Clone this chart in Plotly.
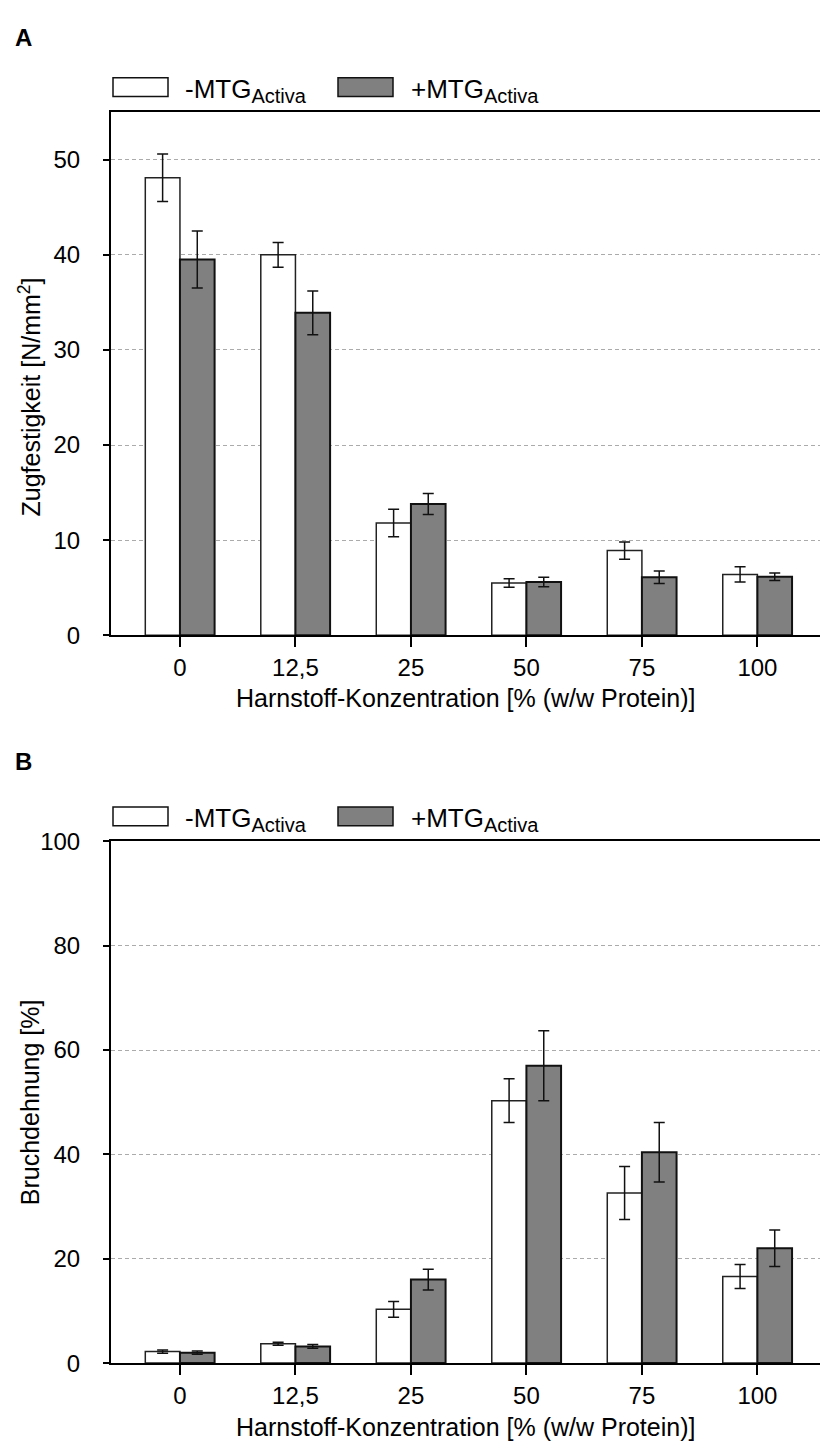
import plotly.graph_objects as go

# Harnstoff-Konzentration [% (w/w Protein)]
categories = ["0", "12,5", "25", "50", "75", "100"]

# Zugfestigkeit [N/mm²]
zug_minus = [48.1, 40.0, 11.8, 5.5, 8.9, 6.4]
zug_minus_err = [2.5, 1.3, 1.45, 0.45, 0.9, 0.8]
zug_plus = [39.5, 33.9, 13.8, 5.6, 6.1, 6.15]
zug_plus_err = [3.0, 2.3, 1.1, 0.5, 0.65, 0.4]

# Bruchdehnung [%]
bruch_minus = [2.2, 3.7, 10.3, 50.3, 32.6, 16.6]
bruch_minus_err = [0.3, 0.3, 1.5, 4.2, 5.1, 2.3]
bruch_plus = [2.0, 3.2, 16.0, 57.0, 40.4, 22.0]
bruch_plus_err = [0.3, 0.35, 2.0, 6.7, 5.7, 3.5]

W, H = 820, 1455
FONT = "Liberation Sans, Arial, sans-serif"
WHITE = "#ffffff"
GREY = "#808080"


def fx(px):
    return px / W


def fy(px):
    return 1 - px / H


fig = go.Figure()

panels = [
    ("x", "y", zug_minus, zug_minus_err, zug_plus, zug_plus_err),
    ("x2", "y2", bruch_minus, bruch_minus_err, bruch_plus, bruch_plus_err),
]
for xa, ya, vm, em, vp, ep in panels:
    for vals, errs, fill, lw, lc in ((vm, em, WHITE, 1.5, "#222222"),
                                     (vp, ep, GREY, 2, "#111111")):
        fig.add_trace(go.Bar(
            x=categories, y=vals, xaxis=xa, yaxis=ya,
            marker=dict(color=fill, line=dict(color=lc, width=lw)),
            error_y=dict(type="data", array=errs, color="#111111",
                         thickness=1.5, width=5.5),
            showlegend=False,
        ))

x_dom = [fx(111), 1]
x_rng = [-0.597, 5.542]
common_x = dict(
    domain=x_dom, range=x_rng, type="category",
    categoryorder="array", categoryarray=categories,
    showline=True, linecolor="black", linewidth=2, mirror=True,
    ticks="outside", ticklen=10, tickwidth=2, tickcolor="black",
    showgrid=False, zeroline=False,
    tickfont=dict(family=FONT, size=24, color="black"),
)
common_y = dict(
    showline=True, linecolor="black", linewidth=2,
    ticks="outside", ticklen=6, tickwidth=2, tickcolor="black",
    ticklabelstandoff=18,
    showgrid=True, gridcolor="#ababab", griddash="4px,3px", gridwidth=1,
    zeroline=False,
    tickfont=dict(family=FONT, size=24, color="black"),
)

fig.update_layout(
    width=W, height=H,
    margin=dict(l=0, r=0, t=0, b=0),
    paper_bgcolor="white", plot_bgcolor="white",
    barmode="group", bargap=0.4, bargroupgap=0,
    showlegend=False,
    xaxis=dict(anchor="y", **common_x),
    yaxis=dict(anchor="x", domain=[fy(633), fy(100)], range=[0, 55],
               tickvals=[0, 10, 20, 30, 40, 50], **common_y),
    xaxis2=dict(anchor="y2", **common_x),
    yaxis2=dict(anchor="x2", domain=[fy(1374.6), fy(843)], range=[0, 100],
                tickvals=[0, 20, 40, 60, 80, 100], **common_y),
)

ann = []
shapes = []
txt = dict(family=FONT, size=25, color="black")

# Panel letters
for label, yc in (("A", 24), ("B", 762)):
    ann.append(dict(text="<b>" + label + "</b>", x=fx(13), y=fy(yc),
                    xref="paper", yref="paper", xanchor="left",
                    yanchor="middle", showarrow=False,
                    font=dict(family=FONT, size=24, color="black")))

# Axis titles
for yref, ymid, title in (("y", 25, "Zugfestigkeit [N/mm<sup>2</sup>]"),
                          ("y2", 50, "Bruchdehnung [%]")):
    ann.append(dict(text=title, x=fx(30), y=ymid, xref="paper", yref=yref,
                    xanchor="center", yanchor="middle", textangle=-90,
                    showarrow=False, font=txt))
for xref, yc in (("x domain", 697), ("x2 domain", 1440)):
    ann.append(dict(text="Harnstoff-Konzentration [% (w/w Protein)]",
                    x=0.5, y=fy(yc), xref=xref, yref="paper",
                    xanchor="center", yanchor="middle", showarrow=False,
                    font=txt))

# Legend keys above each panel
for top in (100, 843):
    y0, y1 = top - 35, top - 16
    for (bx0, bx1, fill, tx, sign) in ((113, 168, WHITE, 183, "-"),
                                        (338, 393, GREY, 409, "+")):
        shapes.append(dict(type="rect", xref="paper", yref="paper",
                           x0=fx(bx0), x1=fx(bx1), y0=fy(y1), y1=fy(y0),
                           fillcolor=fill,
                           line=dict(color="#111111", width=1.5)))
        ann.append(dict(
            text=sign + "MTG<sub><span style='font-size:20px'>Activa</span></sub>",
            x=fx(tx), y=fy(top - 22), xref="paper", yref="paper",
            xanchor="left", yanchor="middle", showarrow=False,
            font=dict(family=FONT, size=26, color="black")))

fig.update_layout(annotations=ann, shapes=shapes)
fig.write_html("out.html")
